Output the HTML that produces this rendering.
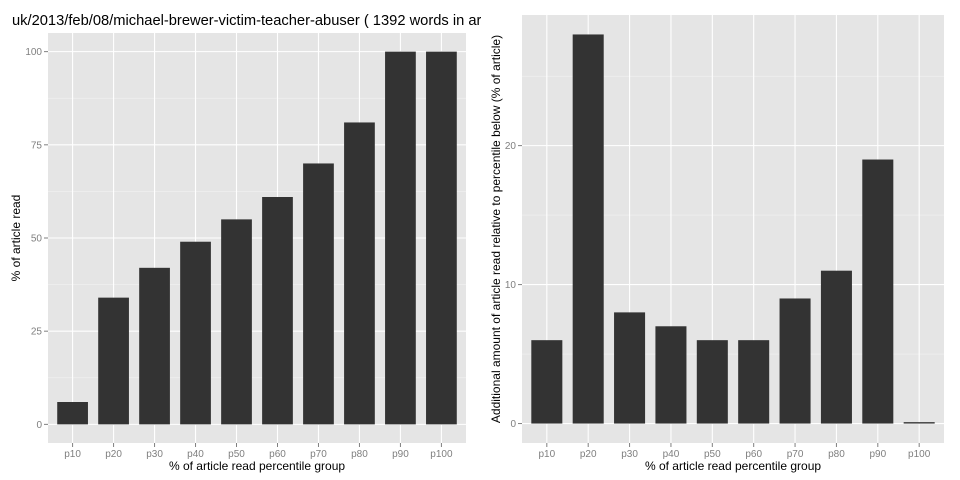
<!DOCTYPE html>
<html><head><meta charset="utf-8"><style>
html,body{margin:0;padding:0;background:#fff;}
svg{display:block;font-family:"Liberation Sans",sans-serif;}
</style></head><body>
<svg id="c" width="960" height="480" xmlns="http://www.w3.org/2000/svg"></svg>
<script>
const categories=["p10","p20","p30","p40","p50","p60","p70","p80","p90","p100"];
const leftValues=[6,34,42,49,55,61,70,81,100,100];
const rightValues=[6,28,8,7,6,6,9,11,19,0.1];
const leftTicks=[0,25,50,75,100];
const rightTicks=[0,10,20];
const NS="http://www.w3.org/2000/svg";
const svg=document.getElementById('c');
function mk(t,a,p){const e=document.createElementNS(NS,t);for(const k in a)e.setAttribute(k,a[k]);(p||svg).appendChild(e);return e;}
function panel(name,x0,x1,y0,y1,vals,ticks,ymin,ymax,ytitle,ytx){
  const g=mk('g',{});
  
  
  const bg=mk('rect',{x:x0,y:y0,width:x1-x0,height:y1-y0,fill:'#e5e5e5'},g);
  
  
  const n=categories.length, step=(x1-x0)/(n-1+1.2);
  const xs=i=>x0+step*(0.6+i);
  const ys=v=>y1-(v-ymin)/(ymax-ymin)*(y1-y0);
  for(let i=0;i<ticks.length-1;i++){const m=(ticks[i]+ticks[i+1])/2;mk('line',{x1:x0,x2:x1,y1:ys(m),y2:ys(m),stroke:'#f2f2f2','stroke-width':0.6},g);}
  const last=ticks[ticks.length-1],d=ticks[1]-ticks[0];
  if(ys(last+d/2)>y0)mk('line',{x1:x0,x2:x1,y1:ys(last+d/2),y2:ys(last+d/2),stroke:'#f2f2f2','stroke-width':0.6},g);
  ticks.forEach(t=>{
    mk('line',{x1:x0,x2:x1,y1:ys(t),y2:ys(t),stroke:'#fff','stroke-width':1.1},g);
    mk('line',{x1:x0-4,x2:x0,y1:ys(t),y2:ys(t),stroke:'#7f7f7f'},g);
    const tl=mk('text',{x:x0-6,y:ys(t)+3.5,'text-anchor':'end','font-size':10,fill:'#7f7f7f'},g);
    tl.textContent=t;
    
    
  });
  categories.forEach((c,i)=>{
    mk('line',{x1:xs(i),x2:xs(i),y1:y0,y2:y1,stroke:'#fff','stroke-width':1.1},g);
    mk('line',{x1:xs(i),x2:xs(i),y1:y1,y2:y1+4,stroke:'#7f7f7f'},g);
    const tl=mk('text',{x:xs(i),y:y1+14,'text-anchor':'middle','font-size':10,fill:'#7f7f7f'},g);
    tl.textContent=c;
    
    
  });
  vals.forEach((v,i)=>{
    const w=step*0.75;
    const b=mk('rect',{x:xs(i)-w/2,y:Math.min(ys(v),ys(0)),width:w,height:Math.abs(ys(0)-ys(v)),fill:'#333'},g);
    
    
  });
  const xt=mk('text',{x:(x0+x1)/2,y:y1+27,'text-anchor':'middle','font-size':12,fill:'#000'},g);
  xt.textContent='% of article read percentile group';
  
  
  const yt=mk('text',{x:0,y:0,'text-anchor':'middle','font-size':12,fill:'#000',transform:`translate(${ytx},${(y0+y1)/2}) rotate(-90)`},g);
  yt.textContent=ytitle;
  
  
}
panel('left-panel',48,466,33,443,leftValues,leftTicks,-5,105,'% of article read',20);
panel('right-panel',522,944,15,443,rightValues,rightTicks,-1.4,29.4,'Additional amount of article read relative to percentile below (% of article)',500);
const cp=mk('clipPath',{id:'tc'});mk('rect',{x:0,y:0,width:481,height:40},cp);
const title=mk('text',{x:12,y:25,'font-size':14.7,fill:'#000','clip-path':'url(#tc)'});
title.textContent='uk/2013/feb/08/michael-brewer-victim-teacher-abuser ( 1392 words in article )';


</script>
</body></html>
